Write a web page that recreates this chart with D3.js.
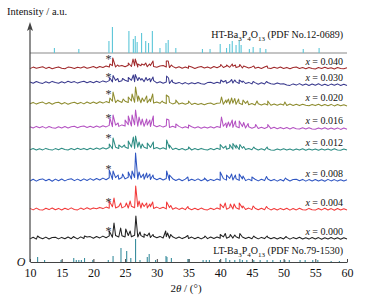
<!DOCTYPE html>
<html>
<head>
<meta charset="utf-8">
<script src="https://cdn.jsdelivr.net/npm/d3@7/dist/d3.min.js"></script>
<style>
body { margin: 0; background: #fff; }
svg { display: block; font-family: "Liberation Serif", "DejaVu Serif", serif; }
</style>
</head>
<body>
<svg width="365" height="303"></svg>
<script>
// Sample names, stacking offsets and asterisk height (a.u.), top to bottom
const samples = ['0.040', '0.030', '0.020', '0.016', '0.012', '0.008', '0.004', '0.000'];
const offsets = [193, 177.5, 157, 134, 112, 81, 52, 23];
const starLevels = [12, 10, 13, 12, 14, 14, 10, 10];
const colors = ['#a0292b', '#3a3a8e', '#8e8c2f', '#b452c2', '#2e8d84', '#2f56c2', '#f23a3a', '#222222'];
const htOffset = 209;
const xTicks = [10, 15, 20, 25, 30, 35, 40, 45, 50, 55, 60];

// Background every 0.5 deg from 10 to 60
const bg040 = [0.4,1.9,0.7,1.5,2.3,0.6,1.7,0.3,1.3,2.1, 0.8,0.2,1.9,1.4,0.5,1.8,1.0,2.2,0.7,1.6,
	2.4,1.0,2.5,1.5,2.9,1.9,3.4,2.0,2.8,3.6, 2.2,3.8,2.5,3.3,2.0,3.2,3.9,2.3,3.4,2.4,
	1.8,3.1,3.5,2.0,1.4,2.6,1.0,2.3,0.8,2.0, 0.7,1.9,0.5,1.8,2.4,1.0,2.1,0.8,2.5,1.3,
	2.7,1.5,3.0,1.7,2.8,1.4,2.5,1.0,2.3,1.1, 2.1,0.7,1.8,0.5,1.9,1.0,0.4,1.7,0.7,1.9,
	0.5,1.6,0.3,1.5,2.0,0.5,1.4,0.2,1.6,0.6, 0.1,1.5,0.6,1.7,0.4,1.3,0.0,1.4,0.5,0.3, 1.2];
const bg030 = [2.6,1.3,3.0,1.8,1.1,2.7,1.5,3.1,1.9,1.2, 2.8,1.6,3.2,2.0,2.9,1.4,2.6,3.3,1.7,2.9,
	1.8,3.2,2.1,3.6,2.4,3.9,2.6,4.1,2.8,3.8, 4.3,3.0,4.2,2.8,4.0,4.4,2.9,4.1,2.7,3.9,
	1.6,2.8,1.3,2.5,1.0,2.3,0.9,2.1,0.6,1.9, 0.4,1.8,0.7,2.0,0.8,0.3,1.9,2.3,1.0,2.2,
	1.2,2.5,1.3,2.7,1.5,2.6,1.0,2.3,1.0,2.1, 0.6,1.9,0.3,1.7,0.5,2.0,0.8,0.2,1.6,0.4,
	0.8,-0.5,-0.9,0.6,-0.6,0.9,-0.8,0.4,-1.0,0.5, -0.7,0.7,-0.9,0.3,-1.1,0.4,-0.8,0.6,-1.0,0.2, -0.9];
const bg020 = [1.2,2.6,0.9,2.3,2.9,1.1,2.5,0.8,2.2,2.8, 1.0,2.4,0.7,2.1,2.7,1.2,2.6,1.1,3.0,1.6,
	2.9,1.5,3.2,1.9,3.4,2.2,3.7,2.4,3.9,2.6, 3.8,2.5,4.0,2.7,3.7,2.3,3.6,2.2,3.3,1.9,
	3.1,1.7,2.8,1.4,2.6,1.1,2.3,0.9,2.1,0.7, 1.9,0.5,1.8,0.4,1.6,0.2,1.5,1.9,0.5,1.7,
	2.0,0.7,2.2,0.9,1.9,0.6,1.8,0.4,1.6,0.2, 1.4,0.0,1.3,-0.1,1.2,0.1,-0.2,1.1,-0.3,1.0,
	-0.1,-0.5,0.9,-0.4,0.8,-0.6,0.7,-0.3,-0.7,0.6, -0.6,0.7,-0.8,0.5,-0.7,0.6,-0.9,0.4,-0.8,0.3, -1.0];
const bg016 = [1.3,0.0,1.6,0.2,1.4,-0.1,1.5,0.3,-0.2,1.3, 0.1,1.5,0.0,1.2,1.7,0.2,1.4,1.9,0.5,1.8,
	0.6,2.0,0.8,2.3,1.1,2.6,1.4,2.9,1.6,3.1, 1.9,3.3,2.0,3.2,1.8,3.0,1.7,2.9,1.5,2.7,
	1.2,2.4,0.9,2.2,0.6,1.8,0.4,1.6,0.1,1.3, -0.1,1.2,0.0,1.3,-0.2,1.1,-0.1,1.3,0.1,1.5,
	0.4,1.7,0.5,1.8,0.6,1.6,0.3,1.4,0.0,1.2, -0.2,1.0,-0.5,0.8,-0.4,0.9,-0.6,0.7,-0.7,0.6,
	-0.8,0.5,-0.9,0.4,-0.7,-1.1,0.2,-1.0,0.3,-0.9, -1.2,0.1,-1.1,0.2,-1.3,0.0,-1.2,0.1,-1.4,-0.1, -1.2];
const bg012 = [0.3,1.5,0.0,1.3,0.1,1.6,0.4,-0.1,1.4,0.2, 1.7,0.4,0.1,1.5,0.3,1.8,0.5,1.6,0.2,1.7,
	0.6,1.9,0.8,2.2,1.0,2.5,1.3,2.8,1.5,2.6, 3.0,1.6,2.9,1.5,2.8,1.6,2.7,1.4,2.6,1.2,
	2.4,1.0,2.2,0.7,1.9,0.5,1.7,0.3,1.5,0.1, 1.3,0.0,1.4,0.2,1.6,0.4,0.1,1.5,0.3,1.7,
	0.6,1.9,0.7,2.0,0.8,1.8,0.5,1.7,0.4,1.5, 0.2,1.4,0.0,1.2,-0.1,1.3,0.1,-0.2,1.1,0.0,
	1.2,-0.1,1.0,-0.3,1.1,0.0,1.3,-0.2,1.0,-0.1, 0.9,-0.3,1.1,-0.1,1.0,-0.2,1.2,0.0,-0.3,0.9, -0.1];
const bg008 = [0.0,1.8,-0.1,1.5,2.1,0.2,1.7,-0.2,1.9,0.3, 2.0,0.1,1.6,2.3,0.4,1.9,0.2,2.1,0.5,2.4,
	0.8,2.5,1.0,2.9,1.3,3.2,1.6,3.4,1.8,3.5, 2.1,3.7,2.0,3.5,1.9,3.4,1.7,3.2,1.5,3.0,
	1.3,2.8,1.0,2.5,0.7,2.3,0.5,2.0,0.3,1.9, 0.2,1.8,0.4,2.1,0.3,1.7,0.0,1.6,0.4,2.0,
	0.7,2.4,0.9,2.6,1.0,2.3,0.6,2.1,0.4,1.9, 0.3,1.8,0.1,1.7,0.4,2.0,0.2,1.6,-0.1,1.5,
	0.1,1.7,0.0,1.4,1.8,0.2,1.6,-0.1,1.4,0.1, 1.5,0.0,1.3,-0.2,1.6,0.1,1.4,-0.1,1.3,0.0, 1.2];
const bg004 = [1.6,0.1,1.9,0.3,-0.1,1.7,0.4,2.0,0.2,1.6, 0.0,1.8,0.4,2.1,0.5,0.1,1.9,0.6,2.2,0.7,
	2.1,1.2,2.6,1.4,2.9,1.8,3.2,2.0,3.4,2.1, 3.6,2.0,3.7,2.2,3.4,1.9,3.5,2.0,3.2,1.6,
	2.9,1.4,2.7,1.1,2.4,0.8,2.2,0.6,2.0,0.4, 1.8,0.3,1.7,0.2,1.9,0.5,0.1,1.8,0.4,2.0,
	0.7,2.3,0.8,2.4,1.0,2.2,0.7,2.1,0.5,1.9, 0.4,1.8,0.2,1.7,0.3,1.9,0.1,1.5,0.0,1.6,
	0.2,1.7,-0.1,1.5,0.1,1.8,0.3,0.0,1.6,0.2, -0.1,1.5,0.1,1.7,0.0,1.4,-0.2,1.5,0.1,1.3, 0.0];
const bg000 = [0.1,1.7,-0.1,1.5,0.2,1.9,0.0,1.4,1.8,0.1, 1.6,0.2,2.0,0.3,1.7,0.1,2.1,0.5,1.9,2.4,
	0.8,2.5,1.1,2.9,1.3,3.1,1.7,3.4,2.0,3.3, 2.1,3.5,2.2,3.8,2.0,3.4,1.8,3.1,1.5,2.8,
	1.3,2.6,1.0,2.4,0.8,2.2,0.6,2.0,0.4,1.8, 0.5,1.9,0.3,1.7,0.1,1.8,0.4,2.0,0.5,1.9,
	0.7,2.1,0.8,2.3,0.9,2.2,0.7,2.0,0.5,1.8, 0.3,1.7,0.1,1.6,0.4,1.8,0.2,1.5,0.0,1.4,
	0.1,1.6,-0.1,1.4,0.2,1.7,0.0,1.3,-0.1,1.5, 0.1,1.4,-0.2,1.3,0.0,1.5,-0.1,1.2,-0.2,1.3, 0.0];

// Peak tops [2theta, height]
const pk040 = [[22.6,5],[23.05,11],[23.8,4],[25.5,6],[26.25,10],[26.6,10],[27.0,5],[27.6,5],[28.25,6],[28.85,5],[29.4,8],
	[31.5,8],[31.8,8],[32.3,4],[35.0,3],[40.1,4.5],[41.0,4],[41.9,5],[42.4,4],[43.1,4.5],[43.7,3],[45.3,3],[47.4,3]];
const pk030 = [[22.55,7],[23.1,9],[23.85,6],[24.6,6],[25.5,7],[26.3,9.5],[26.6,10],[27.2,7],[27.65,6],[28.3,7],[28.9,6],[29.4,7.5],
	[31.55,8.5],[31.85,6.5],[32.4,4.5],[40.1,4.5],[40.9,4],[41.8,5],[42.3,4.5],[43.0,4.5],[43.6,3.5],[45.2,3],[47.3,3]];
const pk020 = [[22.6,7],[23.1,13],[23.85,5],[24.7,6],[25.5,8],[26.1,11],[26.65,18],[27.1,9],[27.7,7],[28.4,9],[28.9,6],[29.35,11],
	[30.85,4],[31.5,10],[31.9,8],[33.0,5],[35.0,4],[40.2,8],[40.9,5],[41.3,6],[41.8,7],[42.3,6.5],[42.9,6],[43.6,5],[44.3,4],
	[45.8,4],[47.5,4],[50.2,3]];
const pk016 = [[22.6,10],[23.1,13],[23.9,5],[25.0,8],[25.5,12],[26.1,13],[26.65,18],[27.2,11],[27.7,9],[28.4,9],[28.9,8],[29.45,12],
	[31.55,9],[31.9,8],[33.0,4],[35.0,3],[40.2,11],[40.9,5],[41.3,6],[41.9,8],[42.4,7],[43.0,7],[43.7,5.5],[44.4,4.5],[45.6,3.5],[47.5,3.5]];
const pk012 = [[22.5,6],[23.1,12],[24.0,5],[24.9,5],[25.5,9],[26.3,13],[26.65,14],[27.2,8],[27.7,6],[28.5,7],[29.45,8],
	[31.55,10],[32.0,5],[35.0,3],[40.0,5.5],[40.9,4],[41.5,5.5],[42.0,6.5],[42.5,5],[43.1,5.5],[43.7,3.5],[45.3,3],[47.4,3]];
const pk008 = [[22.5,11],[23.1,10],[23.9,6],[24.6,7],[25.5,9],[26.1,10],[26.65,28],[27.2,9],[27.9,7],[28.4,8],[28.9,7],[29.4,6],
	[31.55,10],[32.0,6],[34.9,4],[37.5,3],[40.0,9],[41.0,6],[41.8,7],[42.4,6],[43.0,7],[43.6,5],[45.0,4],[47.3,4.5],[50.3,3]];
const pk004 = [[22.5,9],[23.25,12],[24.3,7],[25.2,7],[25.8,9],[26.67,24],[27.2,9],[27.7,7],[28.4,7],[28.9,6],[29.35,8],
	[31.55,8],[32.2,4.5],[34.9,3.5],[40.0,6],[40.8,7],[41.6,6],[42.2,6],[43.0,7],[43.6,4],[45.2,4],[47.3,3.5]];
const pk000 = [[11.2,3],[16.9,2.5],[18.6,3],[22.5,8],[23.25,16],[24.3,11],[25.1,10],[25.8,8],[26.7,23],[27.35,7],[28.0,5],[28.8,6],
	[29.4,4.5],[31.4,8],[31.7,6],[32.2,4.5],[34.9,3.5],[37.6,3],[40.0,4.5],[40.8,5.5],[41.6,4.5],[42.3,4],[43.1,5.5],[45.3,3],[47.4,3],[50.4,2.5]];

// Reference cards [2theta, relative height]
const htSticks = [[13.85,5],[17.7,4],[22.45,12],[23.0,26],[25.6,22],[26.3,14],[26.6,17],[26.9,11],[27.6,20],[28.25,12],[28.7,10],
	[29.3,22],[30.5,5],[31.45,10],[31.8,13],[33.0,5],[37.2,4],[38.4,4],[40.0,9],[41.0,5],[41.5,9],[41.9,12],[42.5,8],[43.0,13],
	[43.3,8],[44.6,4],[45.2,6],[46.3,5],[47.2,4],[53.1,4],[55.6,5]];
const ltSticks = [[11.2,5],[12.3,2],[14.9,2],[16.9,4],[17.3,2],[17.7,2],[18.1,2],[18.6,4],[19.9,2],[22.35,2],[23.1,6],[24.35,14],
	[25.25,11],[25.9,4],[26.65,23],[27.35,2],[28.5,5],[28.8,8],[29.8,2],[31.45,6],[31.6,5],[32.3,4],[34.9,3],[35.1,3],[37.3,2],
	[37.8,2],[38.3,2],[39.9,2],[40.9,4],[41.5,2],[42.3,2],[43.1,3],[43.5,2],[44.2,2],[45.3,2],[46.3,2],[47.4,2],[48.3,2],
	[49.5,2],[50.2,2],[50.9,2],[52.6,2],[53.4,2],[54.6,2],[55.4,2],[57.5,1],[58.8,1]];

const backgrounds = [bg040, bg030, bg020, bg016, bg012, bg008, bg004, bg000];
const peaks = [pk040, pk030, pk020, pk016, pk012, pk008, pk004, pk000];

let svg = d3.select('svg');

let x = d3.scaleLinear().domain([10, 60]).range([30, 347]);
let y = d3.scaleLinear().domain([0, 240]).range([262, 22]);

// Merge background samples and peak tops into one sorted trace
function buildTrace(bg, pk, off)
{
	let pts = bg.map((v, i) => [10 + i * 0.5, v + off]);
	pk.forEach(p => pts.push([p[0], p[1] + off]));
	pts.sort((a, b) => a[0] - b[0]);
	return pts;
}

// Writes a chemical formula with subscripts into a text element
function formula(text, parts)
{
	parts.forEach(p =>
	{
		if (p[1])
			text.append('tspan').attr('font-size', 7).attr('dy', 2.5).text(p[0]);
		else
			text.append('tspan').attr('dy', p[2] ? -2.5 : 0).text(p[0]);
	});
}

let line = d3.line().x(d => x(d[0])).y(d => y(d[1]));

// HT reference card at the top
svg.append('line')
	.attr('x1', x(10)).attr('x2', x(60))
	.attr('y1', y(htOffset)).attr('y2', y(htOffset))
	.attr('stroke', '#8a8a8a').attr('stroke-width', 1.2);
svg.selectAll('.ht').data(htSticks).enter()
	.append('line')
	.attr('x1', d => x(d[0])).attr('x2', d => x(d[0]))
	.attr('y1', y(htOffset)).attr('y2', d => y(htOffset + d[1]))
	.attr('stroke', '#5cc6d8').attr('stroke-width', 1.1);

// LT reference card at the bottom
svg.selectAll('.lt').data(ltSticks).enter()
	.append('line')
	.attr('x1', d => x(d[0])).attr('x2', d => x(d[0]))
	.attr('y1', y(0)).attr('y2', d => y(d[1]))
	.attr('stroke', '#3a8e9e').attr('stroke-width', 1.1);

// Sample patterns
samples.forEach((s, i) =>
{
	svg.append('path')
		.datum(buildTrace(backgrounds[i], peaks[i], offsets[i]))
		.attr('d', line)
		.attr('fill', 'none')
		.attr('stroke', colors[i])
		.attr('stroke-width', 1.05)
		.attr('stroke-linejoin', 'round');

	svg.append('text')
		.attr('x', x(22.4)).attr('y', y(offsets[i] + starLevels[i]) + 6)
		.attr('text-anchor', 'middle')
		.attr('font-size', 12).attr('fill', '#333')
		.text('*');

	let t = svg.append('text')
		.attr('x', 343).attr('y', y(offsets[i]) - 4)
		.attr('text-anchor', 'end')
		.attr('font-size', 10).attr('fill', '#111');
	t.append('tspan').attr('font-style', 'italic').text('x');
	t.append('tspan').text(' = ' + s);
});

// Card labels
let htLabel = svg.append('text').attr('x', 343).attr('y', 38)
	.attr('text-anchor', 'end').attr('font-size', 10).attr('fill', '#111');
formula(htLabel, [['HT-Ba'], ['3', 1], ['P', 0, 1], ['4', 1], ['O', 0, 1], ['13', 1], [' (PDF No.12-0689)', 0, 1]]);

let ltLabel = svg.append('text').attr('x', 343).attr('y', 254)
	.attr('text-anchor', 'end').attr('font-size', 10).attr('fill', '#111');
formula(ltLabel, [['LT-Ba'], ['3', 1], ['P', 0, 1], ['4', 1], ['O', 0, 1], ['13', 1], [' (PDF No.79-1530)', 0, 1]]);

// X axis
let xAxis = d3.axisBottom(x).tickValues(xTicks).tickSizeInner(-3).tickSizeOuter(0).tickPadding(6);
let gx = svg.append('g').attr('transform', 'translate(0,' + y(0) + ')').call(xAxis);
gx.select('.domain').attr('stroke', '#444').attr('stroke-width', 1.2);
gx.selectAll('.tick line').attr('stroke', '#444');
gx.selectAll('.tick text').attr('font-family', '"Liberation Serif", serif').attr('font-size', 12).attr('fill', '#111');

// Y axis with arrow
svg.append('line')
	.attr('x1', x(10)).attr('x2', x(10))
	.attr('y1', y(0)).attr('y2', 28)
	.attr('stroke', '#444').attr('stroke-width', 1.2);
svg.append('path')
	.attr('d', 'M' + x(10) + ',22 L' + (x(10) - 3) + ',31 L' + x(10) + ',29 L' + (x(10) + 3) + ',31 Z')
	.attr('fill', '#444');

svg.append('text').attr('x', 7).attr('y', 15)
	.attr('font-size', 10.5).attr('fill', '#111')
	.text('Intensity / a.u.');

svg.append('text').attr('x', 21).attr('y', 266)
	.attr('text-anchor', 'middle').attr('font-size', 12).attr('font-style', 'italic').attr('fill', '#111')
	.text('O');

let title = svg.append('text').attr('x', 186).attr('y', 292)
	.attr('text-anchor', 'middle').attr('font-size', 11).attr('fill', '#111');
title.append('tspan').text('2');
title.append('tspan').attr('font-style', 'italic').text('θ');
title.append('tspan').text(' / (°)');
</script>
</body>
</html>
